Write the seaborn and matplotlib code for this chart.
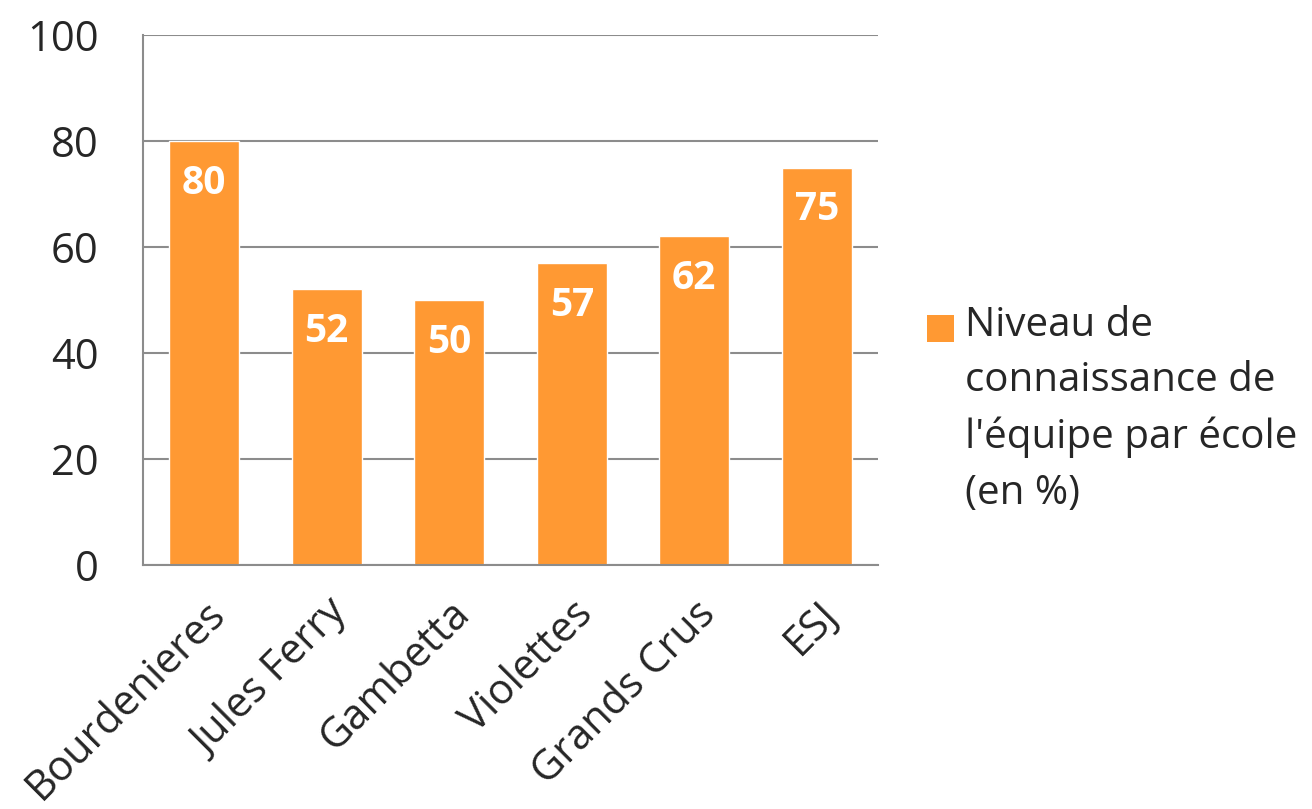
#!/usr/bin/env python3
"""Niveau de connaissance de l'equipe par ecole - bar chart."""

import pandas as pd
import matplotlib.pyplot as plt
import seaborn as sns
from matplotlib.patches import Rectangle

ecoles = ['Bourdenieres', 'Jules Ferry', 'Gambetta', 'Violettes', 'Grands Crus', 'ESJ']
niveaux = [80, 52, 50, 57, 62, 75]
legende = "Niveau de\nconnaissance de\nl'équipe par école\n(en %)"
couleur = '#FF9933'


def main():
    sns.set_style('white')
    plt.rcParams['font.family'] = ['Open Sans', 'DejaVu Sans']

    df = pd.DataFrame({'ecole': ecoles, 'niveau': niveaux})

    fig = plt.figure(figsize=(13.12, 8.09), dpi=100)
    ax = fig.add_axes([143 / 1312, 1 - 565 / 809, (878 - 143) / 1312, (565 - 35) / 809])

    sns.barplot(data=df, x='ecole', y='niveau', color=couleur, saturation=1,
                width=0.57, ax=ax)

    ax.set_ylim(0, 100)
    ax.set_yticks(range(0, 101, 20))
    ax.set_xlabel('')
    ax.set_ylabel('')
    ax.yaxis.grid(True, color='#8c8c8c', linewidth=1.5)
    ax.set_axisbelow(True)
    for side in ['top', 'right']:
        ax.spines[side].set_visible(False)
    for side in ['left', 'bottom']:
        ax.spines[side].set_color('#8c8c8c')
        ax.spines[side].set_linewidth(1.5)
    ax.tick_params(axis='both', length=0, labelsize=30)
    ax.tick_params(axis='y', pad=32)
    ax.tick_params(axis='x', pad=20)
    plt.setp(ax.get_xticklabels(), rotation=45, ha='right', rotation_mode='anchor')

    # value labels inside the bars
    for bar, val in zip(ax.patches, niveaux):
        ax.text(bar.get_x() + bar.get_width() / 2, bar.get_height() - 8, str(val),
                ha='center', va='center', color='white', fontsize=28, fontweight='bold')

    # legend: square + multi-line label
    fig.patches.append(Rectangle((927 / 1312, 1 - 342 / 809), 27 / 1312, 27 / 809,
                                 transform=fig.transFigure, facecolor=couleur,
                                 edgecolor='none'))
    fig.text(965 / 1312, 1 - 305 / 809, legende, ha='left', va='top',
             fontsize=29, linespacing=1.5)

    fig.savefig('out.png', dpi=100)


if __name__ == '__main__':
    main()
